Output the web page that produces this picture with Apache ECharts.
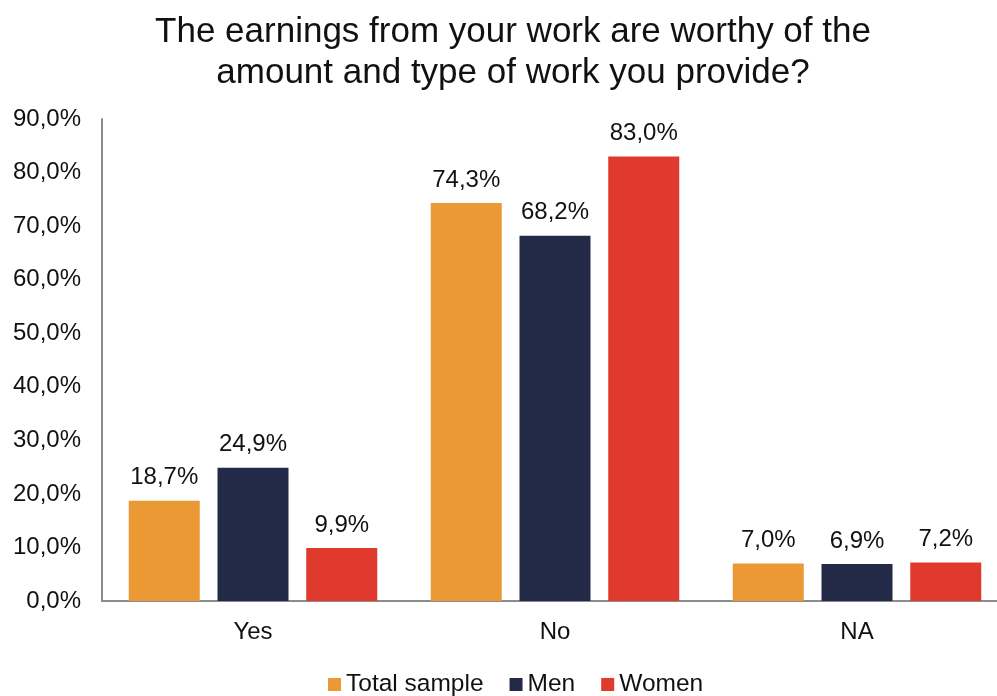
<!DOCTYPE html>
<html>
<head>
<meta charset="utf-8">
<script src="https://cdn.jsdelivr.net/npm/echarts@6/dist/echarts.min.js"></script>
<style>
  html, body { margin: 0; padding: 0; background: #ffffff; overflow: hidden; }
  #chart { width: 1026px; height: 696px; }
</style>
</head>
<body>
<div id="chart"></div>
<script>
// Survey answers grouped by response, one series per respondent group
const categories = ['Yes', 'No', 'NA'];
const totalSample = [18.7, 74.3, 7.0];
const men = [24.9, 68.2, 6.9];
const women = [9.9, 83.0, 7.2];
const seriesNames = ['Total sample', 'Men', 'Women'];
const seriesColors = ['#EA9934', '#222A48', '#E03A2E'];

const fmt = v => v.toFixed(1).replace('.', ',') + '%';
const font = 'Arial, "Liberation Sans", sans-serif';

const chart = echarts.init(document.getElementById('chart'), null, { renderer: 'canvas' });

const makeSeries = (name, data, color) => ({
  name: name,
  type: 'bar',
  data: data,
  barWidth: 71,
  barGap: '25%',
  itemStyle: { color: color },
  label: {
    show: true,
    position: 'top',
    distance: 11,
    formatter: p => fmt(p.value),
    color: '#111111',
    fontSize: 24,
    fontFamily: font
  }
});

chart.setOption({
  animation: false,
  title: {
    text: 'The earnings from your work are worthy of the\namount and type of work you provide?',
    left: 'center',
    top: 7,
    textStyle: { fontSize: 35, fontWeight: 'normal', color: '#111111', fontFamily: font, lineHeight: 41 }
  },
  legend: {
    top: 667,
    left: 323,
    itemWidth: 13,
    itemHeight: 13,
    itemGap: 26,
    icon: 'rect',
    textStyle: { fontSize: 24.5, color: '#111111', fontFamily: font },
    data: seriesNames
  },
  grid: { left: 102, right: 18, top: 119, bottom: 95, containLabel: false },
  xAxis: {
    type: 'category',
    data: categories,
    axisLine: { lineStyle: { color: '#8c8c8c', width: 2 } },
    axisTick: { show: false },
    axisLabel: { fontSize: 24, color: '#111111', fontFamily: font, margin: 19 }
  },
  yAxis: {
    type: 'value',
    min: 0,
    max: 90,
    interval: 10,
    axisLine: { show: true, lineStyle: { color: '#8c8c8c', width: 2 } },
    axisTick: { show: false },
    splitLine: { show: false },
    axisLabel: { fontSize: 24, color: '#111111', fontFamily: font, margin: 21, formatter: v => fmt(v) }
  },
  series: [
    makeSeries(seriesNames[0], totalSample, seriesColors[0]),
    makeSeries(seriesNames[1], men, seriesColors[1]),
    makeSeries(seriesNames[2], women, seriesColors[2])
  ]
});
</script>
</body>
</html>
